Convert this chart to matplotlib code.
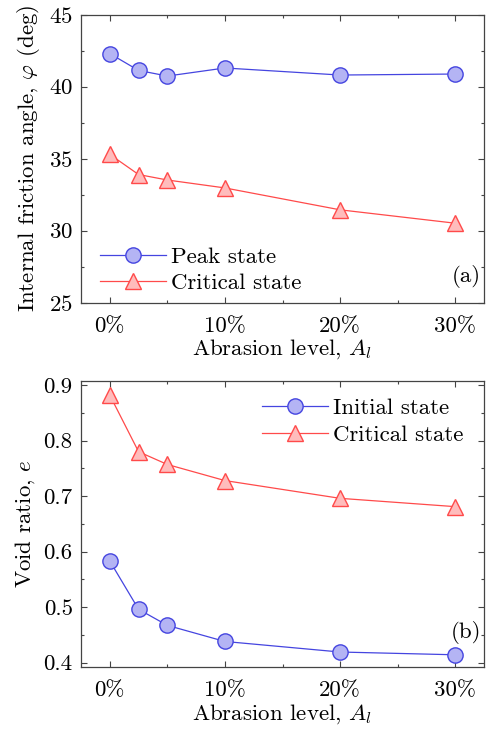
import numpy as np
import matplotlib
matplotlib.use('Agg')
import matplotlib.pyplot as plt
from matplotlib.ticker import FuncFormatter, MultipleLocator

plt.rcParams['font.family'] = 'serif'
plt.rcParams['font.serif'] = ['cmr10', 'DejaVu Serif']
plt.rcParams['mathtext.fontset'] = 'cm'
plt.rcParams['axes.formatter.use_mathtext'] = True

FS = 16.5

# abrasion level (%)
abrasion = [0, 2.5, 5, 10, 20, 30]

# (a) friction angle (deg)
phi_peak = [42.3, 41.13, 40.74, 41.3, 40.81, 40.88]
phi_crit = [35.3, 33.9, 33.52, 32.97, 31.45, 30.52]

# (b) void ratio
e_init = [0.583, 0.496, 0.467, 0.438, 0.419, 0.414]
e_crit = [0.882, 0.78, 0.757, 0.728, 0.696, 0.681]

blue = '#4545e0'
blue_face = '#b4b4f4'
red = '#ff4a4a'
red_face = '#ffbcbc'

fig = plt.figure(figsize=(4.87, 7.29), dpi=100)
ax1 = fig.add_axes([81 / 487, 1 - 302.7 / 729, 403 / 487, 288 / 729])
ax2 = fig.add_axes([81 / 487, 1 - 667 / 729, 403 / 487, 286.3 / 729])

pct = FuncFormatter(lambda v, p: '%d%%' % v)


def style_axes(ax):
    ax.set_xlim(-2.5, 32.5)
    ax.xaxis.set_major_locator(MultipleLocator(10))
    ax.xaxis.set_minor_locator(MultipleLocator(5))
    ax.xaxis.set_major_formatter(pct)
    ax.tick_params(which='both', direction='in', top=True, right=True,
                   labelsize=FS, color='#444444', width=0.8)
    ax.tick_params(which='major', length=4.5)
    ax.tick_params(which='minor', length=2.5)
    ax.tick_params(axis='x', pad=10)
    ax.tick_params(axis='y', pad=6)
    for s in ax.spines.values():
        s.set_color('#444444')
        s.set_linewidth(0.9)
    ax.set_xlabel(r'Abrasion level, $A_l$', fontsize=FS, labelpad=1)


ax1.plot(abrasion, phi_peak, '-o', color=blue, lw=0.9, ms=11,
         mfc=blue_face, mec=blue, mew=1.0, label='Peak state')
ax1.plot(abrasion, phi_crit, '-^', color=red, lw=0.9, ms=12,
         mfc=red_face, mec=red, mew=1.0, label='Critical state')
ax1.set_ylim(25, 45)
ax1.yaxis.set_major_locator(MultipleLocator(5))
ax1.yaxis.set_minor_locator(MultipleLocator(2.5))
style_axes(ax1)
ax1.set_ylabel(r'Internal friction angle, $\varphi$ (deg)', fontsize=FS, labelpad=5)
ax1.legend(loc='lower left', bbox_to_anchor=(0.047, 0.032), frameon=False,
           fontsize=FS, handlelength=2.9, handletextpad=0.2, borderaxespad=0,
           borderpad=0, labelspacing=0.3)
ax1.text(0.955, 0.09, '(a)', transform=ax1.transAxes, fontsize=FS,
         ha='center', va='center')

ax2.plot(abrasion, e_init, '-o', color=blue, lw=0.9, ms=11,
         mfc=blue_face, mec=blue, mew=1.0, label='Initial state')
ax2.plot(abrasion, e_crit, '-^', color=red, lw=0.9, ms=12,
         mfc=red_face, mec=red, mew=1.0, label='Critical state')
ax2.set_ylim(0.392, 0.908)
ax2.yaxis.set_major_locator(MultipleLocator(0.1))
ax2.yaxis.set_minor_locator(MultipleLocator(0.05))
ax2.yaxis.set_major_formatter(FuncFormatter(lambda v, p: '%.1f' % v))
style_axes(ax2)
ax2.set_ylabel(r'Void ratio, $e$', fontsize=FS, labelpad=5)
ax2.legend(loc='upper right', bbox_to_anchor=(0.948, 0.941), frameon=False,
           fontsize=FS, handlelength=2.9, handletextpad=0.2, borderaxespad=0,
           borderpad=0, labelspacing=0.3)
ax2.text(0.955, 0.12, '(b)', transform=ax2.transAxes, fontsize=FS,
         ha='center', va='center')

fig.savefig('out.png', dpi=100)
